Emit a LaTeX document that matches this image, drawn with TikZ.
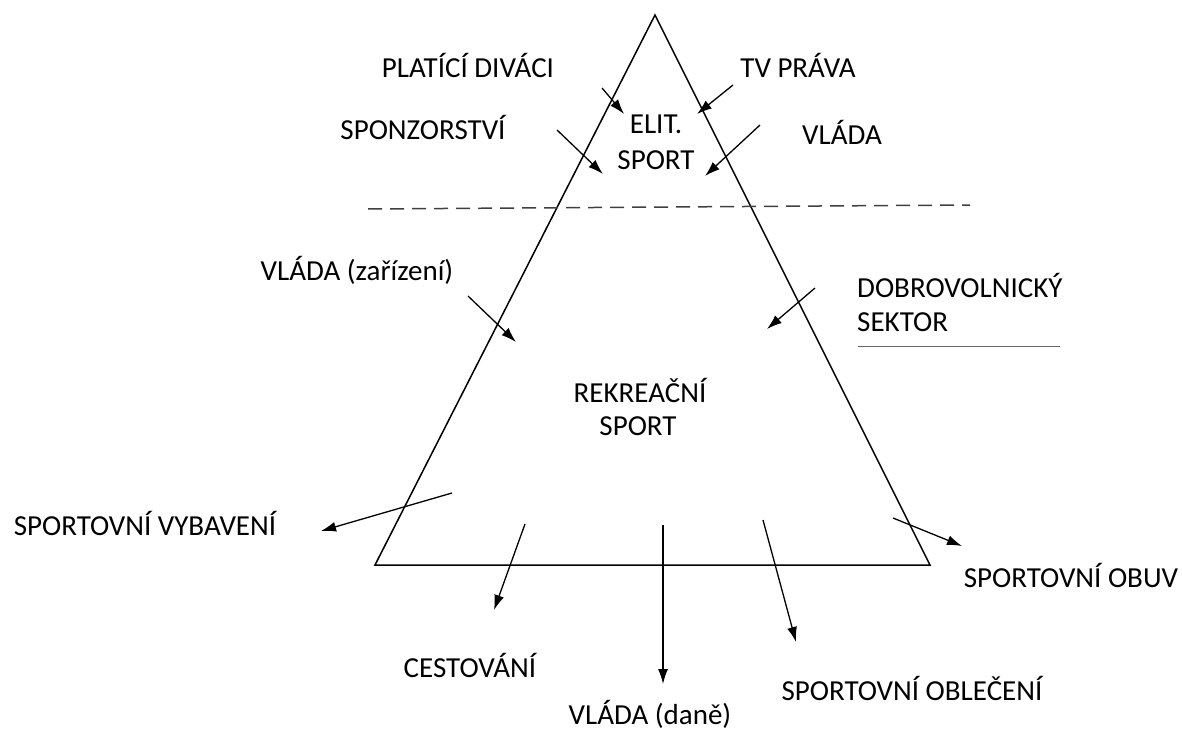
\documentclass[tikz,border=0pt]{standalone}
\usepackage{fontspec}
\setmainfont{Carlito}
\usetikzlibrary{shapes,arrows.meta}
\usetikzlibrary{positioning}
\usepackage{xcolor}

\begin{document}
\begin{tikzpicture}[x=1pt, y=-1pt, font=\fontsize{29}{34}\selectfont,
    flow/.style={-{Latex[length=15pt,width=10pt]}, line width=1.3pt},
    lbl/.style={inner sep=1pt}]
    \useasboundingbox (0,0) rectangle (1182,733);

    % Pyramid and the line between elite and recreational sport
    \coordinate (top) at (655,15);
    \coordinate (bl) at (375,565);
    \coordinate (br) at (930,565);
    \draw[line width=1.5pt] (top) -- (bl) -- (br) -- cycle;
    \coordinate (dashL) at (368,209);
    \coordinate (dashR) at (970,205);
    \draw[line width=1.5pt, black!75, dash pattern=on 14pt off 8pt] (dashL) -- (dashR);

    % Elite sport and its sources
    \node[lbl] (elit) at (656,124) {ELIT.};
    \node[lbl] (elitsport) at (656,160) {SPORT};
    \node[lbl] (divaci) at (468,65) {PLATÍCÍ DIVÁCI};
    \node[lbl] (tvprava) at (798,65) {TV PRÁVA};
    \node[lbl] (sponzor) at (423,127) {SPONZORSTVÍ};
    \node[lbl] (vlada) at (842,132) {VLÁDA};

    \coordinate (divaciA) at (602,88);  \coordinate (divaciB) at (624,114);
    \coordinate (tvA) at (733,85);      \coordinate (tvB) at (697,114);
    \coordinate (sponzorA) at (557,130); \coordinate (sponzorB) at (603,174);
    \coordinate (vladaA) at (760,125);  \coordinate (vladaB) at (705,176);
    \path[flow]
    (divaciA) edge (divaciB)
    (tvA) edge (tvB)
    (sponzorA) edge (sponzorB)
    (vladaA) edge (vladaB);

    % Recreational sport and what goes in
    \node[lbl] (rekreacni) at (640,390) {REKREAČNÍ};
    \node[lbl] (rekrsport) at (638,426) {SPORT};
    \node[lbl] (zarizeni) at (357,270) {VLÁDA (zařízení)};
    \node[lbl, anchor=west] (dobro) at (856,285) {DOBROVOLNICKÝ};
    \node[lbl, anchor=west] (sektor) at (856,322) {SEKTOR};
    \coordinate (ulineL) at (858,346);
    \coordinate (ulineR) at (1060,346);
    \draw[black!60, line width=1pt] (ulineL) -- (ulineR);

    \coordinate (zarizeniA) at (468,296); \coordinate (zarizeniB) at (516,342);
    \coordinate (dobroA) at (815,288);    \coordinate (dobroB) at (767,329);
    \path[flow]
    (zarizeniA) edge (zarizeniB)
    (dobroA) edge (dobroB);

    % What goes out of the pyramid
    \node[lbl] (vybaveni) at (145,523) {SPORTOVNÍ VYBAVENÍ};
    \node[lbl] (cestovani) at (470,665) {CESTOVÁNÍ};
    \node[lbl] (dane) at (650,714) {VLÁDA (daně)};
    \node[lbl] (obleceni) at (912,688) {SPORTOVNÍ OBLEČENÍ};
    \node[lbl] (obuv) at (1071,575) {SPORTOVNÍ OBUV};

    \coordinate (vybaveniA) at (452,493); \coordinate (vybaveniB) at (321,531);
    \coordinate (cestovaniA) at (525,524); \coordinate (cestovaniB) at (494,610);
    \coordinate (daneA) at (663,525);     \coordinate (daneB) at (663,684);
    \coordinate (obleceniA) at (763,520); \coordinate (obleceniB) at (796,642);
    \coordinate (obuvA) at (893,518);     \coordinate (obuvB) at (962,546);
    \path[flow]
    (vybaveniA) edge (vybaveniB)
    (cestovaniA) edge (cestovaniB)
    (daneA) edge (daneB)
    (obleceniA) edge (obleceniB)
    (obuvA) edge (obuvB);
\end{tikzpicture}
\end{document}
